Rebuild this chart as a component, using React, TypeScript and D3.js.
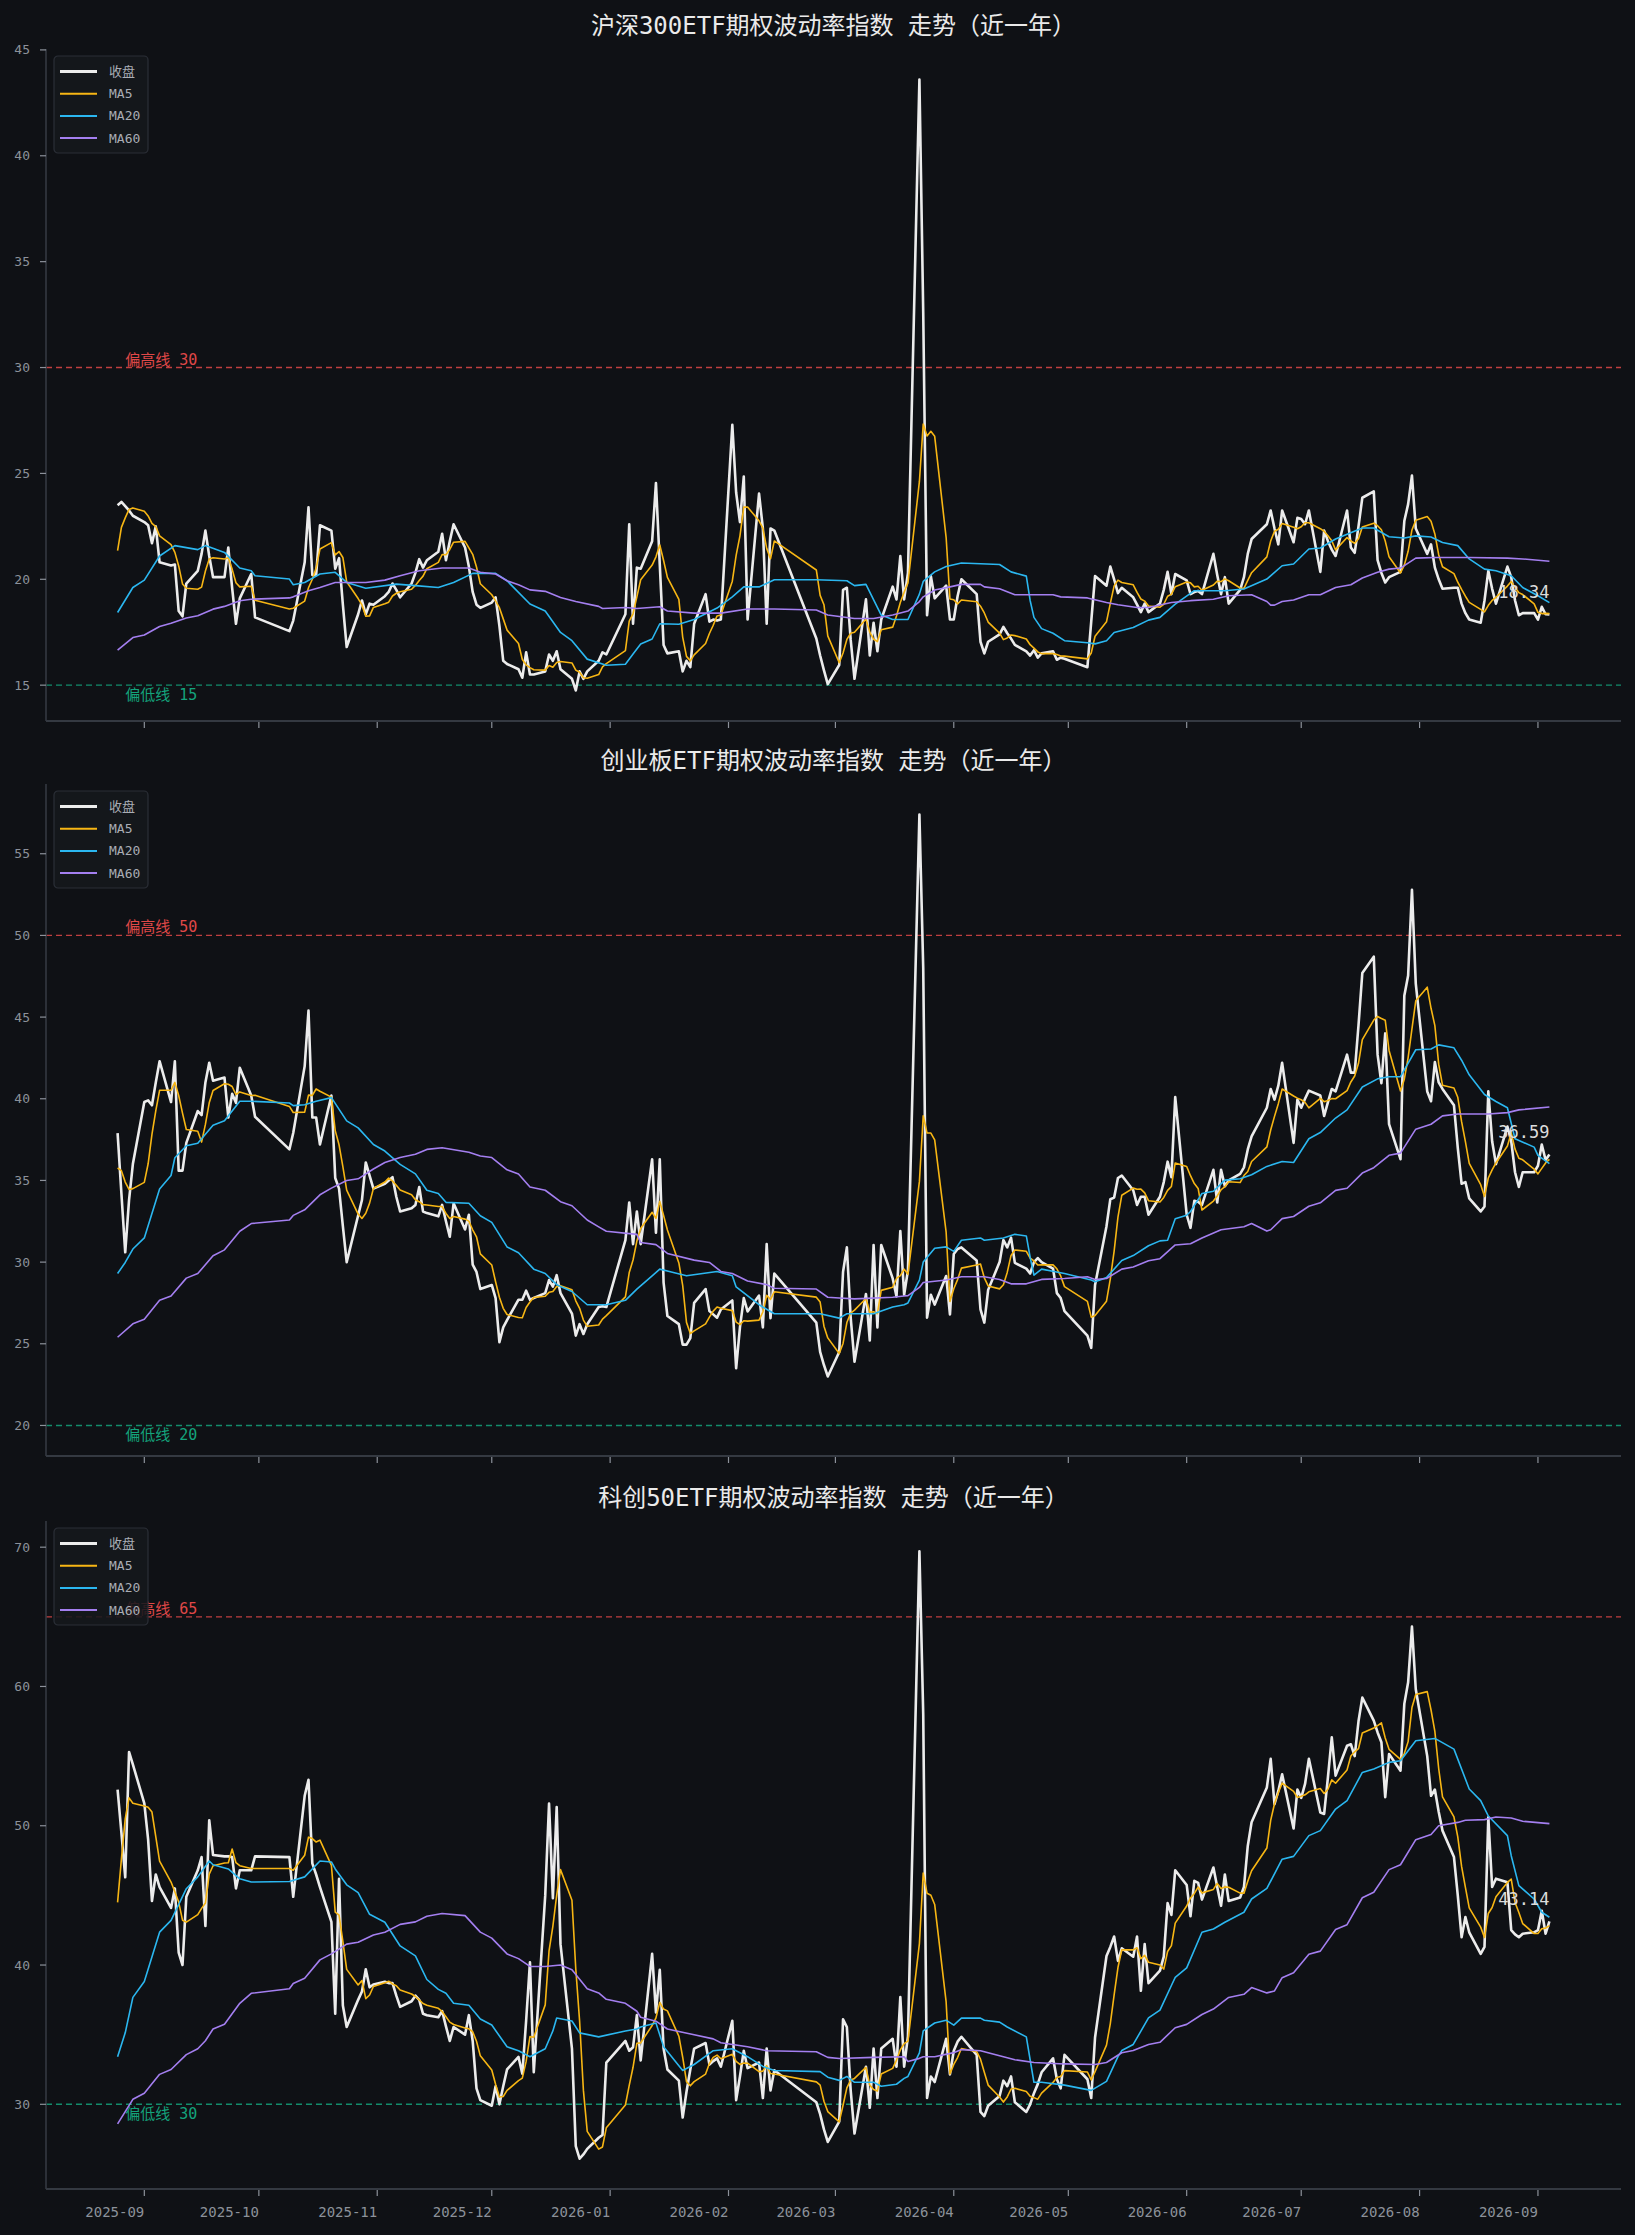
import React from "react";
import * as d3 from "d3";

// ---------------- data ----------------
const START = "2025-08-25";
const END = "2026-09-04";
const HOLIDAYS = [
  "2025-10-01", "2025-10-02", "2025-10-03", "2025-10-06", "2025-10-07", "2025-10-08",
  "2026-01-01", "2026-01-02",
  "2026-02-16", "2026-02-17", "2026-02-18", "2026-02-19", "2026-02-20", "2026-02-23",
  "2026-04-06", "2026-05-01", "2026-05-04", "2026-05-05", "2026-06-19",
];
const X_TICK_MONTHS = [
  "2025-09-01", "2025-10-01", "2025-11-01", "2025-12-01", "2026-01-01", "2026-02-01",
  "2026-03-01", "2026-04-01", "2026-05-01", "2026-06-01", "2026-07-01", "2026-08-01", "2026-09-01",
];
const TITLES = [
  "沪深300ETF期权波动率指数 走势（近一年）",
  "创业板ETF期权波动率指数 走势（近一年）",
  "科创50ETF期权波动率指数 走势（近一年）",
];
const HIGH_LINES = [30, 50, 65];
const LOW_LINES = [15, 20, 30];
const Y_TICK_STEPS = [5, 5, 10];
const LEGEND_LABELS = ["收盘", "MA5", "MA20", "MA60"];

// closes (one per trading day)
const CLOSE_300 = [
  23.5, 23.65, 23.45, 23.25, 23.0, 22.7, 22.55, 21.7, 22.5, 20.8,
  20.65, 20.7, 18.5, 18.25, 19.8, 20.4, 21.2, 22.3, 21.1, 20.1,
  20.1, 21.5, 19.6, 17.9, 19.1, 20.25, 18.2, 17.55, 18.05, 20.8,
  23.4, 20.2, 20.2, 22.55, 22.3, 20.5, 21.0, 18.8, 16.8, 18.35,
  19.0, 18.35, 18.85, 18.8, 19.2, 19.4, 19.8, 19.5, 19.15, 19.8,
  20.3, 20.95, 20.55, 20.9, 21.3, 22.15, 20.9, 21.8, 22.6, 21.5,
  20.6, 19.4, 18.8, 18.65, 18.9, 19.15, 17.8, 16.15, 16.0, 15.75,
  15.35, 16.55, 15.5, 15.5, 15.65, 16.45, 16.15, 16.6, 15.75, 15.3,
  14.75, 15.65, 15.3, 15.65, 16.15, 16.55, 16.45, 18.35, 22.6, 17.9,
  20.55, 20.5, 21.8, 24.55, 20.7, 16.9, 16.5, 16.6, 15.65, 16.15,
  15.85, 17.9, 19.3, 18.0, 18.1, 18.05, 18.1, 27.3, 24.1, 22.7,
  24.85, 18.1, 24.05, 22.4, 17.9, 22.4, 22.3, 17.2, 16.4, 15.7,
  15.05, 15.95, 19.5, 19.6, 17.15, 15.3, 19.05, 16.4, 17.95, 16.6,
  18.1, 19.65, 19.05, 21.1, 19.05, 20.3, 43.6, 32.6, 18.3, 20.15,
  19.1, 19.7, 18.1, 18.1, 19.2, 20.0, 19.3, 17.05, 16.5, 17.05,
  17.4, 17.75, 17.45, 17.2, 16.9, 16.6, 16.4, 16.65, 16.3, 16.5,
  16.6, 16.2, 16.3, 16.25, 15.85, 18.0, 20.15, 19.7, 20.6, 20.0,
  19.35, 19.6, 19.15, 18.8, 18.45, 18.85, 18.45, 18.85, 19.5, 20.35,
  19.3, 20.25, 19.95, 19.3, 19.4, 19.45, 19.3, 21.2, 20.2, 19.3,
  20.1, 18.85, 19.5, 20.1, 21.2, 21.9, 22.6, 23.25, 22.4, 21.65,
  23.25, 21.75, 22.9, 22.85, 22.6, 23.25, 20.35, 22.3, 21.8, 21.4,
  21.1, 23.25, 21.5, 21.25, 22.5, 23.85, 24.15, 20.9, 20.3, 19.85,
  20.1, 20.35, 22.75, 23.55, 24.9, 22.4, 21.2, 21.65, 20.55, 20.0,
  19.55, 19.6, 19.6, 18.85, 18.4, 18.1, 17.95, 19.0, 20.4, 19.55,
  18.85, 20.6, 20.1, 19.0, 18.3, 18.4, 18.4, 18.1, 18.7, 18.35,
  18.34,
];
const CLOSE_CYB = [
  37.9, 34.2, 30.6, 33.8, 36.0, 39.8, 39.9, 39.6, 41.0, 42.3,
  39.8, 42.3, 35.6, 35.6, 37.3, 39.25, 39.0, 41.0, 42.2, 41.1,
  41.3, 38.85, 40.3, 39.75, 41.9, 40.2, 38.9, 36.9, 37.9, 42.0,
  45.4, 38.85, 38.85, 37.2, 40.2, 35.15, 34.5, 32.2, 30.0, 32.85,
  33.8, 36.1, 35.3, 34.5, 34.8, 35.0, 35.2, 34.0, 33.1, 33.3,
  33.5, 34.6, 33.1, 33.0, 32.8, 33.5, 32.5, 31.55, 33.6, 32.0,
  32.9, 29.85, 29.4, 28.35, 28.6, 27.8, 25.1, 26.0, 26.45, 27.7,
  27.7, 28.25, 27.7, 27.8, 28.1, 28.9, 28.5, 29.2, 28.1, 26.85,
  25.5, 26.2, 25.6, 26.2, 27.25, 27.3, 27.25, 31.35, 33.65, 31.1,
  33.1, 31.1, 36.3, 31.8, 36.3, 28.75, 26.7, 26.2, 24.95, 24.95,
  25.35, 27.5, 28.35, 27.0, 26.8, 26.6, 27.1, 27.65, 23.5, 26.0,
  27.8, 26.98, 27.95, 26.0, 31.1, 26.57, 29.3, 26.3, 24.5, 23.7,
  23.0, 24.5, 29.4, 30.9, 26.6, 23.9, 28.05, 25.2, 31.05, 26.0,
  31.05, 29.0, 27.9, 31.9, 28.0, 29.5, 57.4, 48.0, 26.6, 28.0,
  27.4, 29.15, 26.8, 30.5, 30.8, 30.9, 30.1, 27.1, 26.3, 28.3,
  30.0, 31.35, 30.9, 31.5, 29.95, 29.6, 29.3, 30.0, 30.25, 30.0,
  29.6, 28.1, 27.8, 27.0, 25.5, 24.75, 28.6, 32.2, 33.85, 33.95,
  35.15, 35.3, 34.4, 33.5, 34.0, 34.0, 32.9, 34.0, 34.9, 36.15,
  35.2, 40.1, 32.9, 32.1, 33.75, 33.7, 33.5, 35.65, 33.65, 35.65,
  34.65, 35.0, 35.4, 35.8, 36.9, 37.7, 39.45, 40.6, 39.95, 40.8,
  42.2, 37.3, 39.95, 39.45, 40.0, 40.5, 40.2, 38.95, 39.8, 40.6,
  40.45, 42.7, 41.6, 41.6, 44.5, 47.7, 48.7, 42.7, 40.95, 44.0,
  38.45, 36.3, 46.3, 47.55, 52.8, 47.05, 40.45, 39.85, 42.25, 41.0,
  40.6, 39.6, 37.0, 34.8, 34.9, 33.9, 33.1, 33.4, 40.45, 37.4,
  36.0, 38.3, 37.4, 35.5, 34.6, 35.5, 35.5, 35.9, 37.2, 36.25,
  36.59,
];
const CLOSE_KC50 = [
  52.6, 49.5, 46.3, 55.3, 54.4, 51.6, 49.0, 44.6, 46.5, 45.6,
  44.1, 45.5, 40.9, 40.0, 44.9, 46.8, 47.75, 42.8, 50.4, 47.9,
  47.8, 47.8, 47.75, 45.5, 46.8, 46.8, 47.8, 47.75, 44.9, 52.15,
  53.3, 47.3, 46.5, 45.6, 43.1, 36.5, 46.2, 37.1, 35.55, 37.5,
  38.1, 39.7, 38.4, 38.6, 38.8, 38.7, 38.7, 37.8, 37.0, 37.4,
  37.8, 37.5, 36.5, 36.4, 36.25, 36.7, 35.6, 34.55, 35.55, 35.0,
  36.4, 34.55, 31.15, 30.3, 29.9, 31.3, 30.0, 31.3, 32.5, 33.4,
  32.2, 36.0, 40.2, 32.3, 45.0, 51.6, 44.8, 51.35, 41.5, 34.0,
  27.0, 26.1, 26.4, 26.8, 27.6, 27.8, 33.0, 34.55, 33.85, 34.1,
  36.4, 33.15, 40.8, 36.6, 39.65, 34.0, 32.5, 31.7, 29.05, 30.9,
  32.5, 34.0, 34.4, 32.85, 33.1, 33.3, 32.7, 36.0, 30.3, 32.0,
  33.85, 32.6, 33.0, 30.45, 34.0, 31.0, 32.45, 30.15, 29.3, 28.2,
  27.3, 28.75, 36.1, 35.55, 31.0, 27.9, 32.7, 29.75, 34.0, 30.45,
  34.0, 34.7, 32.7, 37.7, 32.7, 34.9, 69.7, 58.0, 30.45, 32.0,
  31.6, 34.7, 32.15, 33.85, 34.5, 34.85, 33.55, 29.45, 29.15, 29.9,
  30.6, 31.7, 31.3, 32.0, 30.15, 29.45, 30.0, 30.8, 31.45, 32.3,
  33.3, 31.8, 31.15, 33.55, 31.8, 30.45, 34.8, 40.65, 41.3, 42.05,
  40.3, 41.2, 40.6, 42.05, 38.15, 41.5, 38.7, 39.6, 40.6, 44.45,
  43.6, 46.8, 45.75, 43.5, 46.05, 45.9, 44.7, 47.0, 45.6, 44.25,
  46.5, 44.6, 44.85, 45.6, 48.55, 50.25, 52.75, 54.8, 51.55, 52.5,
  53.7, 49.8, 52.6, 52.0, 53.0, 54.8, 50.95, 50.85, 53.5, 56.35,
  53.6, 55.75, 55.85, 55.0, 57.5, 59.2, 57.55, 56.7, 56.0, 52.05,
  55.15, 53.95, 58.75, 60.3, 64.3, 59.8, 55.0, 52.15, 52.6, 51.0,
  49.65, 47.75, 45.0, 42.0, 43.45, 42.35, 40.8, 41.3, 50.6, 45.6,
  46.2, 45.95, 42.5, 42.2, 42.0, 42.25, 42.35, 42.5, 43.9, 42.25,
  43.14,
];

// closes of the 4 sessions before the window (needed for the first MA5 values)
const PRE_300 = [18.15, 21.2, 21.25, 22.65];
const PRE_CYB = [35.0, 34.1, 36.05, 35.75];
const PRE_KC50 = [34.0, 31.8, 47.8, 56.3];

// MA20 / MA60: [trading-day index, value]
const MA20_300 = [[0,18.43],[4,19.61],[5,19.96],[9,21.1],[11,21.59],[15,21.4],[17,21.59],[20,21.27],[24,20.53],[25,20.4],[26,20.17],[27,20.01],[28,19.74],[29,19.85],[33,20.25],[35,20.33],[38,19.85],[41,19.58],[47,19.77],[50,19.7],[54,19.61],[58,19.85],[61,20.28],[65,20.28],[68,19.93],[72,18.83],[74,18.5],[78,17.49],[79,17.1],[83,16.23],[86,15.94],[87,15.99],[89,16.47],[91,16.94],[92,17.18],[94,17.9],[97,17.88],[101,18.1],[105,18.64],[107,19.17],[110,19.64],[112,19.64],[116,19.98],[117,19.98],[123,19.93],[125,19.7],[126,19.76],[130,18.31],[131,18.1],[135,18.1],[136,19.3],[137,19.9],[140,20.35],[141,20.6],[145,20.77],[150,20.7],[153,20.35],[155,20.15],[156,19.0],[157,18.2],[159,17.67],[160,17.45],[163,17.1],[164,17.0],[166,16.95],[167,17.1],[169,17.49],[172,17.72],[176,18.07],[177,18.2],[181,18.83],[184,19.46],[190,19.46],[193,19.54],[196,20.01],[200,20.64],[201,20.72],[205,21.43],[206,21.48],[210,21.9],[215,22.42],[216,22.42],[220,22.01],[222,21.95],[225,22.05],[227,22.0],[230,21.74],[232,21.59],[235,20.96],[237,20.48],[240,20.4],[242,20.17],[245,19.61],[247,19.22],[250,18.9]];
const MA60_300 = [[0,16.65],[4,17.25],[5,17.37],[9,17.77],[10,17.92],[14,18.17],[15,18.28],[19,18.59],[20,18.72],[24,18.99],[25,19.06],[27,19.12],[28,19.17],[30,19.46],[33,19.61],[35,19.85],[41,19.85],[44,19.96],[48,20.17],[51,20.4],[55,20.53],[60,20.53],[63,20.33],[65,20.25],[68,19.93],[69,19.74],[72,19.5],[74,19.43],[78,19.14],[80,18.95],[84,18.72],[85,18.62],[87,18.67],[90,18.62],[94,18.7],[96,18.5],[101,18.4],[106,18.4],[111,18.6],[116,18.6],[117,18.55],[120,18.31],[125,18.15],[128,18.15],[131,18.31],[135,18.5],[136,18.95],[137,19.17],[140,19.49],[142,19.64],[145,19.76],[147,19.76],[148,19.64],[150,19.55],[154,19.27],[160,19.27],[162,19.17],[164,19.12],[167,18.9],[170,18.8],[173,18.67],[176,18.67],[180,18.9],[183,18.99],[187,19.06],[191,19.22],[195,19.27],[196,18.95],[197,18.78],[198,18.78],[200,18.95],[201,19.02],[205,19.27],[206,19.27],[210,19.61],[212,19.74],[215,20.06],[217,20.33],[220,20.48],[221,20.53],[225,21.0],[228,21.03],[235,21.03],[241,21.0],[245,20.96],[250,20.85]];
const MA20_CYB = [[0,29.3],[2,29.98],[4,30.8],[5,31.48],[9,34.48],[10,35.3],[11,36.39],[14,37.12],[15,37.28],[19,38.38],[20,38.65],[24,39.85],[25,39.85],[27,39.74],[28,39.58],[29,39.63],[32,39.85],[34,40.07],[38,38.65],[39,38.22],[43,37.2],[44,36.8],[48,35.98],[50,35.4],[53,34.4],[54,34.2],[56,33.66],[60,33.6],[63,32.84],[64,32.43],[68,30.93],[69,30.57],[73,29.57],[74,29.3],[77,28.62],[79,28.2],[83,27.39],[86,27.39],[87,27.66],[90,28.35],[92,29.16],[94,29.57],[99,29.16],[105,29.43],[107,29.16],[108,28.48],[112,27.39],[116,26.84],[118,26.84],[121,26.57],[123,26.84],[128,26.84],[131,27.25],[134,27.39],[135,27.5],[136,28.9],[137,30.0],[140,30.85],[141,30.93],[143,30.66],[145,31.34],[147,31.48],[148,31.34],[151,31.48],[154,31.7],[155,31.6],[156,30.3],[157,29.2],[159,29.57],[163,29.3],[165,28.9],[166,28.8],[167,29.05],[171,30.1],[172,30.4],[176,31.0],[177,31.3],[179,31.34],[181,32.65],[182,32.87],[183,33.1],[186,34.2],[187,34.34],[190,35.02],[192,35.1],[195,35.35],[196,35.86],[200,36.16],[201,36.1],[205,37.55],[206,37.93],[210,38.82],[211,39.32],[215,40.72],[217,41.22],[220,41.35],[221,41.35],[225,43.0],[227,43.05],[229,43.3],[231,43.12],[233,42.36],[235,41.47],[237,40.26],[240,39.83],[241,39.45],[243,37.55],[246,37.04],[247,36.53],[250,36.03]];
const MA60_CYB = [[0,25.4],[4,26.22],[5,26.5],[9,27.66],[10,27.93],[14,29.02],[15,29.3],[19,30.39],[20,30.75],[24,31.89],[25,32.36],[27,32.58],[28,32.86],[29,33.2],[33,34.12],[34,34.53],[38,35.0],[39,35.1],[43,35.7],[44,36.1],[48,36.4],[50,36.6],[53,36.9],[55,37.0],[60,36.73],[63,36.5],[64,36.4],[68,35.65],[69,35.4],[72,34.6],[74,34.4],[78,33.7],[79,33.45],[83,32.58],[84,32.16],[86,31.89],[90,31.7],[91,31.2],[93,31.07],[96,30.53],[101,30.12],[103,29.98],[106,29.43],[107,29.3],[111,28.84],[114,28.62],[116,28.4],[117,28.35],[120,27.85],[121,27.8],[125,27.75],[131,27.85],[134,27.93],[135,27.95],[136,28.45],[137,28.75],[141,28.9],[145,29.1],[148,29.1],[150,28.94],[153,28.67],[155,28.67],[159,28.94],[163,29.0],[164,29.1],[166,28.94],[167,29.0],[171,29.57],[172,29.7],[176,30.08],[177,30.21],[181,31.05],[183,31.12],[186,31.48],[189,31.98],[193,32.16],[195,32.36],[196,31.9],[197,31.98],[200,32.66],[201,32.79],[205,33.42],[206,33.63],[210,34.39],[211,34.52],[215,35.45],[216,35.78],[220,36.54],[221,36.67],[225,38.14],[227,38.44],[230,38.95],[232,39.07],[238,39.07],[241,39.15],[244,39.32],[250,39.5]];
const MA20_KC50 = [[0,33.42],[2,35.13],[4,37.68],[5,38.82],[9,42.36],[10,43.21],[14,45.48],[15,46.33],[18,47.47],[19,47.2],[21,46.9],[24,46.19],[25,45.96],[27,46.0],[29,46.33],[33,47.47],[34,47.4],[35,46.9],[38,45.76],[39,45.2],[42,43.64],[44,43.07],[48,41.37],[50,40.66],[53,38.96],[54,38.25],[56,37.97],[58,37.26],[60,37.11],[63,36.12],[64,35.69],[68,34.13],[69,33.85],[72,33.42],[74,33.99],[76,35.27],[77,36.2],[79,35.98],[81,35.13],[84,34.84],[87,35.27],[90,35.41],[91,35.55],[93,35.84],[95,34.13],[98,32.43],[101,32.86],[104,33.85],[107,33.99],[111,33.42],[113,32.72],[116,32.43],[118,32.35],[120,31.95],[121,31.72],[123,32.0],[125,31.58],[128,31.58],[130,31.3],[132,31.44],[134,31.86],[135,32.0],[136,33.7],[137,35.27],[140,35.84],[141,36.04],[143,35.69],[145,36.19],[147,36.19],[148,36.04],[150,35.9],[152,35.55],[155,34.84],[156,33.2],[157,31.58],[159,31.58],[163,31.38],[165,31.0],[167,31.65],[170,33.42],[171,33.86],[172,34.3],[176,36.2],[177,36.76],[180,38.53],[181,39.11],[182,39.8],[186,42.35],[187,42.59],[190,43.07],[193,43.79],[195,44.74],[196,45.5],[200,47.6],[201,47.8],[205,49.29],[206,49.65],[210,51.2],[211,51.8],[215,53.83],[216,54.07],[220,54.55],[221,54.67],[225,56.1],[228,56.27],[231,55.5],[235,52.64],[236,51.8],[238,50.7],[241,49.29],[242,47.85],[244,45.7],[246,44.74],[248,43.79],[250,43.43]];
const MA60_KC50 = [[0,28.6],[4,30.36],[5,30.8],[9,32.15],[10,32.5],[14,33.57],[15,33.99],[17,34.56],[19,35.41],[20,35.75],[24,37.25],[25,37.97],[27,38.3],[28,38.68],[29,39.05],[33,40.37],[34,40.8],[38,41.5],[39,41.64],[43,42.15],[44,42.36],[48,42.92],[50,43.1],[53,43.5],[55,43.7],[59,43.55],[63,42.36],[64,41.93],[68,40.8],[69,40.46],[72,39.9],[74,39.9],[78,40.0],[79,39.66],[83,38.3],[84,38.0],[86,37.54],[87,37.25],[90,36.68],[91,36.25],[93,35.97],[96,35.41],[101,34.99],[104,34.7],[106,34.42],[111,34.13],[114,33.85],[117,33.77],[120,33.37],[121,33.29],[128,33.37],[134,33.42],[135,33.08],[136,33.3],[137,33.42],[140,33.42],[143,33.71],[145,33.93],[147,33.85],[150,33.48],[154,33.2],[157,33.0],[163,32.9],[166,32.86],[167,33.0],[171,33.7],[172,33.86],[176,34.3],[177,34.45],[181,35.5],[182,35.74],[186,36.45],[187,36.84],[191,37.67],[193,37.9],[195,38.38],[196,38.0],[198,38.14],[200,39.09],[201,39.45],[205,40.77],[206,41.0],[210,42.55],[211,42.9],[215,44.83],[216,45.23],[220,46.85],[221,47.2],[225,49.0],[227,49.37],[229,50.0],[232,50.24],[234,50.4],[237,50.44],[240,50.63],[242,50.56],[245,50.32],[250,50.15]];

// ---------------- layout / style ----------------
const W = 1635;
const H = 2235;
const BG = "#0f1115";
const AX_LEFT = 46;
const AX_RIGHT = 1621;
const LAYOUT = [
  { top: 49, bottom: 721 },
  { top: 784, bottom: 1456 },
  { top: 1521, bottom: 2189 },
];
const C_CLOSE = "#ececec";
const C_MA5 = "#f7b614";
const C_MA20 = "#2bb7f0";
const C_MA60 = "#a47ff0";
const C_HIGH = "#e04848";
const C_LOW = "#14a37c";
const C_SPINE = "#343941";
const C_TICK = "#8c919a";
const MONO = "'DejaVu Sans Mono', 'Noto Sans CJK SC', monospace";
const TITLE_FONT = "'DejaVu Sans Mono', 'Noto Sans CJK SC', sans-serif";

function buildDays(): Date[] {
  const hol = new Set(HOLIDAYS);
  const out: Date[] = [];
  const end = new Date(END + "T00:00:00Z").getTime();
  for (let t = new Date(START + "T00:00:00Z").getTime(); t <= end; t += 86400000) {
    const d = new Date(t);
    const wd = d.getUTCDay();
    if (wd === 0 || wd === 6) continue;
    if (hol.has(d.toISOString().slice(0, 10))) continue;
    out.push(d);
  }
  return out;
}

function rolling5(pre: number[], close: number[]): number[] {
  const all = pre.concat(close);
  return close.map((_, i) => d3.mean(all.slice(i, i + 5)) as number);
}

type PanelData = {
  title: string;
  close: number[];
  pre: number[];
  ma20: number[][];
  ma60: number[][];
  hi: number;
  lo: number;
  step: number;
};

function Panel({ p, k, x, days }: { p: PanelData; k: number; x: d3.ScaleTime<number, number>; days: Date[] }) {
  const { top, bottom } = LAYOUT[k];
  const ma5 = rolling5(p.pre, p.close);
  const vals = [
    ...p.close, ...ma5, ...p.ma20.map((d) => d[1]), ...p.ma60.map((d) => d[1]), p.hi, p.lo,
  ];
  const [mn, mx] = d3.extent(vals) as [number, number];
  const pad = (mx - mn) * 0.05;
  const y = d3.scaleLinear().domain([mn - pad, mx + pad]).range([bottom, top]);
  const yTicks = d3.range(Math.ceil((mn - pad) / p.step) * p.step, mx + pad + 1e-9, p.step);
  const line = d3
    .line<[Date, number]>()
    .x((d) => x(d[0]))
    .y((d) => y(d[1]));
  const closePts = p.close.map((v, i) => [days[i], v] as [Date, number]);
  const ma5Pts = ma5.map((v, i) => [days[i], v] as [Date, number]);
  const ma20Pts = p.ma20.map((d) => [days[d[0]], d[1]] as [Date, number]);
  const ma60Pts = p.ma60.map((d) => [days[d[0]], d[1]] as [Date, number]);
  const monthTicks = X_TICK_MONTHS.map((s) => new Date(s + "T00:00:00Z"));
  const fmt = d3.utcFormat("%Y-%m");
  const lastI = p.close.length - 1;
  const lastX = x(days[lastI]);
  const lastY = y(p.close[lastI]);
  const textX = x(days[2]);
  const legendRows = [
    { label: LEGEND_LABELS[0], color: C_CLOSE, w: 3.2 },
    { label: LEGEND_LABELS[1], color: C_MA5, w: 2 },
    { label: LEGEND_LABELS[2], color: C_MA20, w: 2 },
    { label: LEGEND_LABELS[3], color: C_MA60, w: 2 },
  ];

  return (
    <g>
      <text
        x={(AX_LEFT + AX_RIGHT) / 2}
        y={top - 15}
        textAnchor="middle"
        fill="#eaeaea"
        fontSize={24}
        fontFamily={TITLE_FONT}
      >
        {p.title}
      </text>

      {/* thresholds */}
      <line x1={AX_LEFT} x2={AX_RIGHT} y1={y(p.hi)} y2={y(p.hi)} stroke={C_HIGH} strokeWidth={1.4} strokeDasharray="6,4" opacity={0.85} />
      <line x1={AX_LEFT} x2={AX_RIGHT} y1={y(p.lo)} y2={y(p.lo)} stroke={C_LOW} strokeWidth={1.4} strokeDasharray="6,4" opacity={0.85} />
      <text x={textX} y={y(p.hi) - 3} fill={C_HIGH} fontSize={15} fontFamily={MONO}>
        {`偏高线 ${p.hi}`}
      </text>
      <text x={textX} y={y(p.lo) + 15} fill={C_LOW} fontSize={15} fontFamily={MONO}>
        {`偏低线 ${p.lo}`}
      </text>

      {/* series */}
      <path d={line(closePts) || ""} fill="none" stroke={C_CLOSE} strokeWidth={2.6} strokeLinejoin="round" />
      <path d={line(ma5Pts) || ""} fill="none" stroke={C_MA5} strokeWidth={1.6} strokeLinejoin="round" />
      <path d={line(ma20Pts) || ""} fill="none" stroke={C_MA20} strokeWidth={1.6} strokeLinejoin="round" />
      <path d={line(ma60Pts) || ""} fill="none" stroke={C_MA60} strokeWidth={1.6} strokeLinejoin="round" />

      {/* last value */}
      <text x={lastX} y={lastY - 16} textAnchor="end" fill="#dcdcdc" fontSize={17} fontFamily={MONO}>
        {p.close[lastI].toFixed(2)}
      </text>

      {/* spines */}
      <line x1={AX_LEFT} x2={AX_LEFT} y1={top} y2={bottom} stroke={C_SPINE} strokeWidth={1.6} />
      <line x1={AX_LEFT} x2={AX_RIGHT} y1={bottom} y2={bottom} stroke={C_SPINE} strokeWidth={1.8} />

      {/* y ticks */}
      {yTicks.map((t) => (
        <g key={"y" + t}>
          <line x1={AX_LEFT - 6} x2={AX_LEFT} y1={y(t)} y2={y(t)} stroke={C_TICK} strokeWidth={1.2} />
          <text x={AX_LEFT - 16} y={y(t)} dy="0.35em" textAnchor="end" fill={C_TICK} fontSize={13} fontFamily={MONO}>
            {t}
          </text>
        </g>
      ))}

      {/* x ticks */}
      {monthTicks.map((d) => (
        <g key={"x" + d.getTime()}>
          <line x1={x(d)} x2={x(d)} y1={bottom + 1} y2={bottom + 7} stroke={C_TICK} strokeWidth={1.2} />
          {k === 2 && (
            <text x={x(d)} y={bottom + 28} textAnchor="end" fill={C_TICK} fontSize={14} fontFamily={MONO}>
              {fmt(d)}
            </text>
          )}
        </g>
      ))}

      {/* legend */}
      <g transform={`translate(${AX_LEFT + 8},${top + 7})`}>
        <rect x={0} y={0} width={94} height={97} rx={4} fill="#16181d" fillOpacity={0.88} stroke="#2b2f37" strokeWidth={1.2} />
        {legendRows.map((r, i) => (
          <g key={r.label} transform={`translate(0,${15.5 + i * 22.2})`}>
            <line x1={6} x2={43} y1={0} y2={0} stroke={r.color} strokeWidth={r.w} />
            <text x={55} y={0} dy="0.35em" fill="#a9adb5" fontSize={13} fontFamily={MONO}>
              {r.label}
            </text>
          </g>
        ))}
      </g>
    </g>
  );
}

export default function App() {
  const days = React.useMemo(() => buildDays(), []);
  const t0 = days[0].getTime();
  const t1 = days[days.length - 1].getTime();
  const span = t1 - t0;
  const x = d3
    .scaleUtc()
    .domain([new Date(t0 - span * 0.05), new Date(t1 + span * 0.05)])
    .range([AX_LEFT, AX_RIGHT]);

  const panels: PanelData[] = [
    { title: TITLES[0], close: CLOSE_300, pre: PRE_300, ma20: MA20_300, ma60: MA60_300, hi: HIGH_LINES[0], lo: LOW_LINES[0], step: Y_TICK_STEPS[0] },
    { title: TITLES[1], close: CLOSE_CYB, pre: PRE_CYB, ma20: MA20_CYB, ma60: MA60_CYB, hi: HIGH_LINES[1], lo: LOW_LINES[1], step: Y_TICK_STEPS[1] },
    { title: TITLES[2], close: CLOSE_KC50, pre: PRE_KC50, ma20: MA20_KC50, ma60: MA60_KC50, hi: HIGH_LINES[2], lo: LOW_LINES[2], step: Y_TICK_STEPS[2] },
  ];

  return (
    <svg
      width={W}
      height={H}
      viewBox={`0 0 ${W} ${H}`}
      style={{ position: "absolute", left: 0, top: 0, display: "block", background: BG }}
    >
      <rect x={0} y={0} width={W} height={H} fill={BG} />
      {panels.map((p, k) => (
        <Panel key={k} p={p} k={k} x={x} days={days} />
      ))}
    </svg>
  );
}
